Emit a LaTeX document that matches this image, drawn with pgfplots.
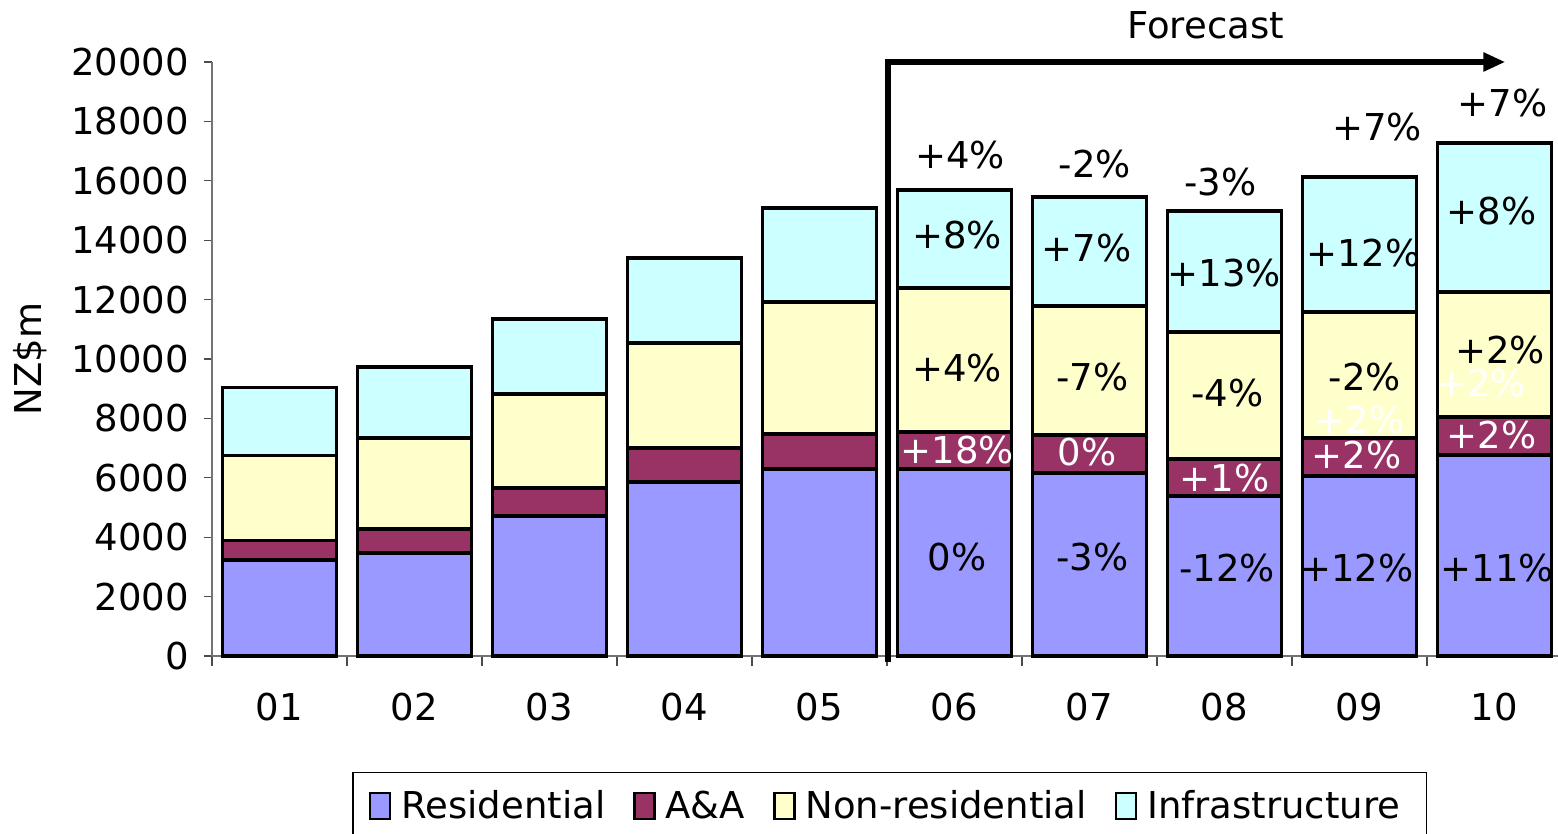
\documentclass[border=0pt]{standalone}
\usepackage{pgfplots}
\pgfplotsset{compat=1.18}
\usetikzlibrary{arrows.meta}
\usepackage{fontspec}
\setmainfont{DejaVu Sans}

\definecolor{resid}{HTML}{9999FF}
\definecolor{aanda}{HTML}{993366}
\definecolor{nonres}{HTML}{FFFFCC}
\definecolor{infra}{HTML}{CCFFFF}

\pgfplotsset{frame/.style={width=675pt, height=297pt, scale only axis,
    xmin=-0.5, xmax=9.5, ymin=0, ymax=20000, clip=false,
    font=\fontsize{18.5}{22}\selectfont}}

\begin{document}
\begin{tikzpicture}
\begin{axis}[
    frame,
    ybar stacked, bar width=0.84,
    xtick={0,...,9},
    xticklabels={01,02,03,04,05,06,07,08,09,10},
    minor xtick={-0.5,0.5,...,9.5},
    ytick={0,2000,...,20000},
    scaled y ticks=false,
    axis lines*=left,
    axis line style={black!55, line width=0.8pt},
    tick align=outside,
    major tick length=4pt, minor tick length=5pt,
    major x tick style={draw=none},
    minor x tick style={black!70, line width=0.6pt},
    y tick style={black!70, line width=0.6pt},
    /pgf/number format/assume math mode=true,
    /pgf/number format/1000 sep={},
    xticklabel style={yshift=-11pt},
    yticklabel style={xshift=-4pt},
    ylabel={NZ\$m},
    every axis y label/.style={at={(rel axis cs:-0.135,0.5)}, rotate=90, anchor=center},
    every axis plot/.append style={draw=black, line width=1.6pt},
    legend style={at={(rel axis cs:0.502,-0.1953)}, anchor=north,
        legend columns=4, draw=black, line width=0.6pt,
        inner ysep=7pt, inner xsep=8pt,
        /tikz/every even column/.append style={column sep=9pt},
        nodes={inner xsep=5pt}},
    legend image code/.code={\draw[#1, draw=black, line width=1.2pt] (0pt,-6.5pt) rectangle (10pt,6.5pt);},
]
\addplot[fill=resid] coordinates {(0,3232) (1,3468) (2,4714) (3,5859) (4,6296) (5,6296) (6,6162) (7,5387) (8,6061) (9,6768)};
\addplot[fill=aanda] coordinates {(0,670) (1,808) (2,943) (3,1144) (4,1179) (5,1246) (6,1279) (7,1246) (8,1279) (9,1279)};
\addplot[fill=nonres] coordinates {(0,2860) (1,3064) (2,3165) (3,3536) (4,4444) (5,4849) (6,4344) (7,4276) (8,4242) (9,4209)};
\addplot[fill=infra] coordinates {(0,2290) (1,2391) (2,2525) (3,2862) (4,3165) (5,3299) (6,3670) (7,4074) (8,4546) (9,5017)};
\legend{Residential, A\&A, Non-residential, Infrastructure}
\end{axis}

% labels on top of the bars
\begin{axis}[frame, hide axis]
% residential changes
\node at (axis cs:5.02,3333) {0\%};
\node at (axis cs:6.02,3333) {-3\%};
\node at (axis cs:7.02,2963) {-12\%};
\node at (axis cs:7.98,2963) {+12\%};
\node at (axis cs:9.02,2963) {+11\%};
% A&A changes
\node[white] at (axis cs:5.02,6936) {+18\%};
\node[white] at (axis cs:5.98,6869) {0\%};
\node[white] at (axis cs:7.0,5993) {+1\%};
\node[white] at (axis cs:7.98,6768) {+2\%};
\node[white] at (axis cs:8.98,7441) {+2\%};
% stray labels
\node[white] at (axis cs:8.0,7946) {+2\%};
\node[white] at (axis cs:8.9,9192) {+2\%};
% non-residential changes
\node at (axis cs:5.02,9697) {+4\%};
\node at (axis cs:6.02,9394) {-7\%};
\node at (axis cs:7.02,8855) {-4\%};
\node at (axis cs:8.04,9394) {-2\%};
\node at (axis cs:9.04,10303) {+2\%};
% infrastructure changes
\node at (axis cs:5.02,14175) {+8\%};
\node at (axis cs:5.98,13737) {+7\%};
\node at (axis cs:7.0,12896) {+13\%};
\node at (axis cs:8.03,13569) {+12\%};
\node at (axis cs:8.98,14983) {+8\%};
% totals
\node at (axis cs:5.04,16869) {+4\%};
\node at (axis cs:6.04,16566) {-2\%};
\node at (axis cs:6.97,15960) {-3\%};
\node at (axis cs:8.13,17811) {+7\%};
\node at (axis cs:9.06,18620) {+7\%};
% forecast marker
\draw[line width=3pt, -{Triangle[length=11pt,width=9pt]}]
    (axis cs:4.51,-200) -- (axis cs:4.51,20000) -- (axis cs:9.08,20000);
\node at (axis cs:6.86,21246) {Forecast};
\end{axis}
\pgfresetboundingbox
\path[use as bounding box] (-106pt,-89pt) rectangle (673pt,328pt);
\end{tikzpicture}
\end{document}
